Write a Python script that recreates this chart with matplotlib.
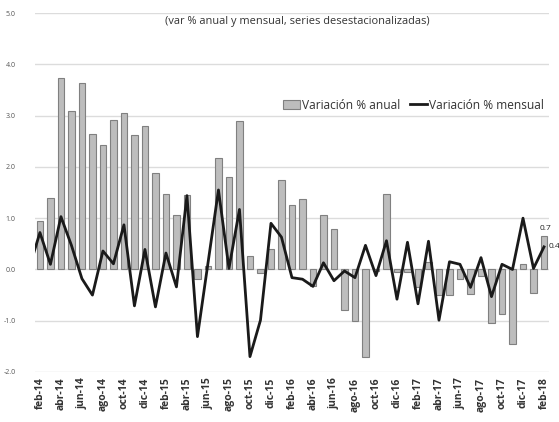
#!/usr/bin/env python3

import numpy as np
import matplotlib
matplotlib.use('Agg')
import matplotlib.pyplot as plt

# meses: ene-14 .. feb-18 (ene-14 solo para el tramo inicial de la linea)
meses = ['ene-14',
         'feb-14', 'mar-14', 'abr-14', 'may-14', 'jun-14', 'jul-14', 'ago-14', 'sep-14',
         'oct-14', 'nov-14', 'dic-14', 'ene-15', 'feb-15', 'mar-15', 'abr-15', 'may-15',
         'jun-15', 'jul-15', 'ago-15', 'sep-15', 'oct-15', 'nov-15', 'dic-15', 'ene-16',
         'feb-16', 'mar-16', 'abr-16', 'may-16', 'jun-16', 'jul-16', 'ago-16', 'sep-16',
         'oct-16', 'nov-16', 'dic-16', 'ene-17', 'feb-17', 'mar-17', 'abr-17', 'may-17',
         'jun-17', 'jul-17', 'ago-17', 'sep-17', 'oct-17', 'nov-17', 'dic-17', 'ene-18',
         'feb-18']

var_anual = [np.nan,
             0.95, 1.39, 3.73, 3.09, 3.63, 2.65, 2.43, 2.91,
             3.06, 2.63, 2.80, 1.88, 1.47, 1.06, 1.45, -0.19,
             0.06, 2.17, 1.81, 2.89, 0.27, -0.06, 0.40, 1.74,
             1.25, 1.37, -0.33, 1.07, 0.78, -0.79, -1.00, -1.70,
             -0.03, 1.48, -0.05, -0.05, -0.35, 0.15, -0.50, -0.50,
             -0.18, -0.47, -0.12, -1.05, -0.86, -1.46, 0.10, -0.45,
             0.65]

var_mensual = [0.04,
               0.72, 0.10, 1.03, 0.47, -0.18, -0.50, 0.36, 0.11,
               0.87, -0.71, 0.39, -0.73, 0.32, -0.34, 1.44, -1.31,
               0.12, 1.55, 0.02, 1.17, -1.70, -0.99, 0.90, 0.63,
               -0.16, -0.19, -0.33, 0.13, -0.22, -0.03, -0.16, 0.47,
               -0.12, 0.56, -0.58, 0.53, -0.67, 0.55, -0.99, 0.15,
               0.10, -0.35, 0.23, -0.53, 0.10, 0.0, 1.00, 0.02,
               0.44]

plt.rcParams['font.family'] = ['Open Sans', 'DejaVu Sans']

x = np.arange(len(meses))

fig = plt.figure(figsize=(5.59, 4.22), dpi=100)
ax = fig.add_axes([0.0626, 0.1185, 0.9194, 0.8505])

barras = ax.bar(x, var_anual, width=0.62, color='#bdbdbd', edgecolor='#808080',
                linewidth=0.8, label='Variación % anual', zorder=2)
linea, = ax.plot(x, var_mensual, color='#1a1a1a', linewidth=2.0,
                 label='Variación % mensual', zorder=3)

ax.set_xlim(0.53, len(meses) - 0.53)
ax.set_ylim(-2, 5)
ax.set_yticks(np.arange(-2, 5.1, 1))
ax.set_yticklabels([f'{v:.1f}' for v in np.arange(-2, 5.1, 1)],
                   fontsize=5, color='#555555')
ax.set_xticks(x[1::2])
ax.set_xticklabels(meses[1::2], rotation=90, fontsize=7.5,
                   fontweight='bold', color='#333333')
ax.tick_params(axis='both', length=0, pad=4)
ax.tick_params(axis='y', pad=14)

ax.grid(True, axis='y', color='#dcdcdc', linewidth=1.0, zorder=0)
ax.set_axisbelow(True)
for s in ax.spines.values():
    s.set_visible(False)

# etiquetas del ultimo dato
ax.annotate(f'{var_anual[-1]:.1f}', (x[-1], var_anual[-1]), xytext=(1, 3),
            textcoords='offset points', ha='center', va='bottom',
            fontsize=6, color='#222222', annotation_clip=False)
ax.annotate(f'{var_mensual[-1]:.1f}', (x[-1], var_mensual[-1]), xytext=(3, 0),
            textcoords='offset points', ha='left', va='center',
            fontsize=6, color='#222222', annotation_clip=False)

ax.text(0.51, 0.993, '(var % anual y mensual, series desestacionalizadas)',
        transform=ax.transAxes, ha='center', va='top', fontsize=7.9,
        color='#333333')

leg = ax.legend([barras, linea], ['Variación % anual', 'Variación % mensual'],
                loc='upper right', bbox_to_anchor=(1.0, 0.775), ncol=2,
                frameon=False, fontsize=8.6, handlelength=1.4,
                handletextpad=0.2, columnspacing=0.8, borderaxespad=0)
for t in leg.get_texts():
    t.set_color('#333333')

fig.savefig('out.png', dpi=100)
